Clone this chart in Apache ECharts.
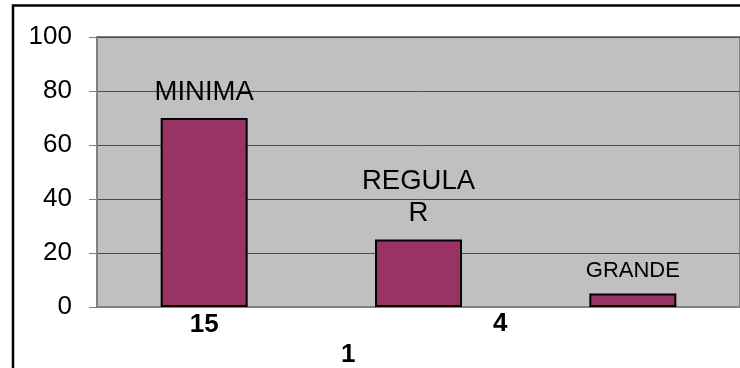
<!DOCTYPE html>
<html>
<head>
<meta charset="utf-8">
<script src="https://cdn.jsdelivr.net/npm/echarts@6/dist/echarts.min.js"></script>
<style>
  html, body { margin: 0; padding: 0; background: #fff; }
  #chart { width: 740px; height: 368px; }
</style>
</head>
<body>
<div id="chart"></div>
<script>
// Category tick labels along the bottom axis
const categories = ['15', '', ''];
// Bar heights
const values = [70, 25, 5];
// Text above each bar
const barLabels = ['MINIMA', 'REGULA\nR', 'GRANDE'];
const barLabelSizes = [27.5, 27.5, 22];
// Extra bold texts under the axis
const extraAxisTexts = ['4', '1'];
// Value axis scale
const yMin = 0, yMax = 100, yStep = 20;

const FONT = '"Liberation Sans", Arial, sans-serif';

const chart = echarts.init(document.getElementById('chart'), null, { renderer: 'canvas' });

const seriesData = values.map((v, i) => ({
  value: v,
  label: {
    formatter: barLabels[i],
    fontSize: barLabelSizes[i],
    lineHeight: barLabelSizes[i] > 25 ? 32 : 26
  }
}));

chart.setOption({
  animation: false,
  backgroundColor: '#ffffff',
  grid: {
    left: 97, top: 37, width: 647, bottom: 61,
    show: true,
    backgroundColor: '#C0C0C0',
    borderColor: '#808080',
    borderWidth: 2
  },
  xAxis: {
    type: 'category',
    data: categories,
    axisLine: { show: true, lineStyle: { color: '#808080', width: 2 } },
    axisTick: { show: false },
    axisLabel: {
      color: '#000', fontSize: 26, fontWeight: 'bold', fontFamily: FONT,
      margin: 5, interval: 0
    },
    splitLine: { show: false }
  },
  yAxis: {
    type: 'value',
    min: yMin, max: yMax, interval: yStep,
    axisLine: { show: true, lineStyle: { color: '#808080', width: 1 } },
    axisTick: { show: true, length: 8, lineStyle: { color: '#808080', width: 1 } },
    axisLabel: { color: '#000', fontSize: 26, fontFamily: FONT, margin: 25 },
    splitLine: { show: true, lineStyle: { color: '#4a4a4a', width: 1 } }
  },
  series: [{
    type: 'bar',
    data: seriesData,
    barWidth: 87,
    itemStyle: { color: '#993366', borderColor: '#000', borderWidth: 2 },
    label: {
      show: true, position: 'top', distance: 10,
      color: '#000', fontFamily: FONT
    }
  }],
  graphic: [
    {
      type: 'rect', silent: true, z: 100,
      shape: { x: 13, y: 5.5, width: 900, height: 500 },
      style: { fill: 'none', stroke: '#000', lineWidth: 2.5 }
    },
    {
      type: 'text', left: 493, top: 311,
      style: { text: extraAxisTexts[0], fill: '#000', font: 'bold 26px ' + FONT }
    },
    {
      type: 'text', left: 341, top: 342,
      style: { text: extraAxisTexts[1], fill: '#000', font: 'bold 26px ' + FONT }
    }
  ]
});
</script>
</body>
</html>
